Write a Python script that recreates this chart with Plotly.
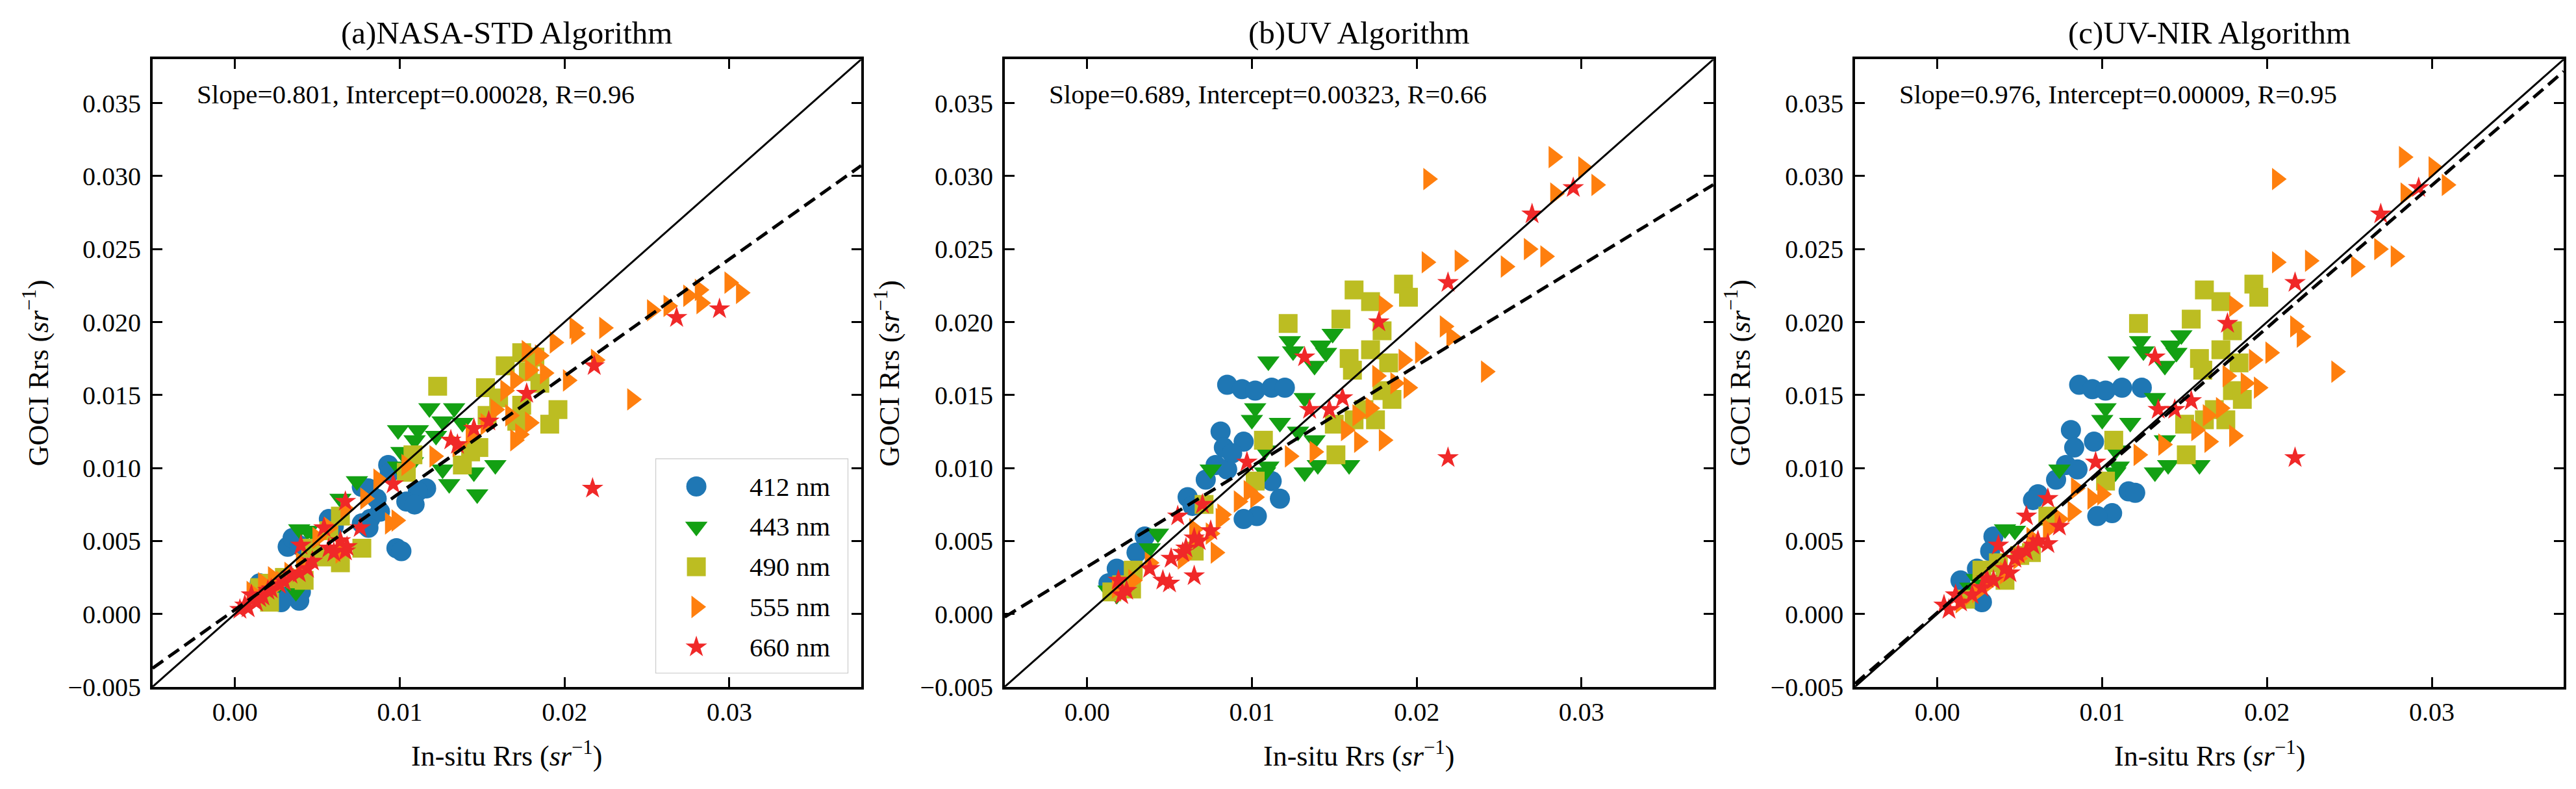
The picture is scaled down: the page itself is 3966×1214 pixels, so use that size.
import plotly.graph_objects as go

# ─── 데이터 ─────────────────────────────────────────────────────────────────
BANDS = ["412 nm", "443 nm", "490 nm", "555 nm", "660 nm"]
PANEL_TITLES = ["(a)NASA-STD Algorithm", "(b)UV Algorithm", "(c)UV-NIR Algorithm"]
SLOPES = [0.801, 0.689, 0.976]
INTERCEPTS = [0.00028, 0.00323, 0.00009]
R_VALUES = [0.96, 0.66, 0.95]

AXIS_RANGE = [-0.005, 0.038]
X_TICKS = [0.0, 0.01, 0.02, 0.03]
Y_TICKS = [-0.005, 0.0, 0.005, 0.010, 0.015, 0.020, 0.025, 0.030, 0.035]

# (a) NASA-STD
A412_X = [0.0093, 0.0094, 0.0116, 0.0111, 0.0104, 0.0109, 0.0098, 0.0101, 0.0082, 0.0081, 0.0077, 0.0057, 0.0032,
          0.0035, 0.0039, 0.0030, 0.0039, 0.0028, 0.0020, 0.0027, 0.0015, 0.0040, 0.0077, 0.0060, 0.0088, 0.0081,
          0.0086]
A412_Y = [0.0102, 0.0097, 0.0086, 0.0084, 0.0077, 0.0075, 0.0045, 0.0043, 0.0065, 0.0086, 0.0062, 0.0065, 0.0046,
          0.0052, 0.0047, 0.0013, 0.0009, 0.0008, 0.0009, 0.0018, 0.0021, 0.0015, 0.0087, 0.0060, 0.0070, 0.0059,
          0.0079]
A443_X = [0.0118, 0.0133, 0.0138, 0.0099, 0.0111, 0.0109, 0.0130, 0.0145, 0.0158, 0.0147, 0.0126, 0.0101, 0.0099,
          0.0074, 0.0064, 0.0044, 0.0039, 0.0049, 0.0027, 0.0037, 0.0020, 0.0122, 0.0108, 0.0126]
A443_Y = [0.0141, 0.0141, 0.0131, 0.0126, 0.0126, 0.0119, 0.0089, 0.0097, 0.0102, 0.0082, 0.0099, 0.0111, 0.0101,
          0.0091, 0.0079, 0.0057, 0.0058, 0.0053, 0.0021, 0.0015, 0.0016, 0.0122, 0.0104, 0.0132]
A490_X = [0.0123, 0.0164, 0.0174, 0.0182, 0.0178, 0.0152, 0.0153, 0.0148, 0.0143, 0.0138, 0.0196, 0.0191, 0.0174,
          0.0104, 0.0108, 0.0077, 0.0064, 0.0054, 0.0046, 0.0057, 0.0030, 0.0020, 0.0015, 0.0037, 0.0064, 0.0160,
          0.0185, 0.0171, 0.0042, 0.0021]
A490_Y = [0.0156, 0.0170, 0.0179, 0.0176, 0.0166, 0.0155, 0.0136, 0.0114, 0.0111, 0.0102, 0.0140, 0.0130, 0.0143,
          0.0097, 0.0109, 0.0045, 0.0035, 0.0039, 0.0045, 0.0057, 0.0025, 0.0021, 0.0018, 0.0024, 0.0067, 0.0148,
          0.0158, 0.0132, 0.0023, 0.0008]
A555_X = [0.0300, 0.0307, 0.0282, 0.0275, 0.0283, 0.0253, 0.0263, 0.0224, 0.0206, 0.0207, 0.0241, 0.0219, 0.0202,
          0.0194, 0.0185, 0.0177, 0.0179, 0.0170, 0.0164, 0.0158, 0.0170, 0.0179, 0.0167, 0.0152, 0.0143, 0.0121,
          0.0104, 0.0098, 0.0094, 0.0087, 0.0079, 0.0067, 0.0057, 0.0050, 0.0064, 0.0040, 0.0023, 0.0017, 0.0010,
          0.0188, 0.0135, 0.0173, 0.0028, 0.0033]
A555_Y = [0.0227, 0.0220, 0.0222, 0.0218, 0.0213, 0.0208, 0.0211, 0.0196, 0.0196, 0.0192, 0.0147, 0.0174, 0.0160,
          0.0186, 0.0177, 0.0180, 0.0167, 0.0160, 0.0153, 0.0140, 0.0119, 0.0131, 0.0136, 0.0130, 0.0123, 0.0108,
          0.0102, 0.0064, 0.0062, 0.0092, 0.0079, 0.0072, 0.0059, 0.0052, 0.0042, 0.0035, 0.0025, 0.0021, 0.0015,
          0.0165, 0.0115, 0.0123, 0.0022, 0.0028]
A660_X = [0.0294, 0.0268, 0.0218, 0.0217, 0.0177, 0.0154, 0.0145, 0.0131, 0.0135, 0.0096, 0.0067, 0.0054, 0.0064,
          0.0057, 0.0067, 0.0040, 0.0044, 0.0039, 0.0027, 0.0020, 0.0010, 0.0006, 0.0003, 0.0013, 0.0015, 0.0076,
          0.0060, 0.0068, 0.0022, 0.0030, 0.0034, 0.0017, 0.0008, 0.0047]
A660_Y = [0.0209, 0.0203, 0.0170, 0.0086, 0.0151, 0.0132, 0.0127, 0.0119, 0.0116, 0.0089, 0.0077, 0.0059, 0.0050,
          0.0045, 0.0043, 0.0047, 0.0031, 0.0028, 0.0020, 0.0016, 0.0013, 0.0006, 0.0003, 0.0008, 0.0011, 0.0059,
          0.0042, 0.0046, 0.0017, 0.0022, 0.0027, 0.0012, 0.0004, 0.0036]

# (b) UV
B412_X = [0.0085, 0.0094, 0.0102, 0.0112, 0.0120, 0.0081, 0.0083, 0.0095, 0.0078, 0.0085, 0.0117, 0.0112, 0.0103,
          0.0095, 0.0061, 0.0064, 0.0035, 0.0030, 0.0018, 0.0013, 0.0072, 0.0088]
B412_Y = [0.0157, 0.0154, 0.0153, 0.0155, 0.0155, 0.0125, 0.0114, 0.0118, 0.0102, 0.0099, 0.0079, 0.0091, 0.0067,
          0.0065, 0.0080, 0.0074, 0.0053, 0.0042, 0.0031, 0.0021, 0.0092, 0.0110]
B443_X = [0.0110, 0.0123, 0.0125, 0.0149, 0.0142, 0.0145, 0.0138, 0.0132, 0.0102, 0.0100, 0.0117, 0.0138, 0.0132,
          0.0140, 0.0159, 0.0075, 0.0110, 0.0043, 0.0038, 0.0018, 0.0108, 0.0128, 0.0108, 0.0013]
B443_Y = [0.0173, 0.0187, 0.0180, 0.0192, 0.0184, 0.0179, 0.0170, 0.0148, 0.0141, 0.0133, 0.0131, 0.0119, 0.0097,
          0.0102, 0.0102, 0.0099, 0.0101, 0.0055, 0.0045, 0.0013, 0.0112, 0.0125, 0.0097, 0.0016]
B490_X = [0.0122, 0.0154, 0.0162, 0.0172, 0.0192, 0.0195, 0.0159, 0.0161, 0.0172, 0.0179, 0.0183, 0.0179, 0.0185,
          0.0150, 0.0162, 0.0175, 0.0151, 0.0107, 0.0102, 0.0071, 0.0065, 0.0028, 0.0021, 0.0027, 0.0168, 0.0015]
B490_Y = [0.0199, 0.0202, 0.0222, 0.0214, 0.0226, 0.0217, 0.0175, 0.0167, 0.0181, 0.0194, 0.0172, 0.0153, 0.0147,
          0.0130, 0.0133, 0.0133, 0.0109, 0.0119, 0.0091, 0.0075, 0.0043, 0.0030, 0.0020, 0.0017, 0.0140, 0.0015]
B555_X = [0.0283, 0.0301, 0.0207, 0.0309, 0.0284, 0.0268, 0.0278, 0.0254, 0.0206, 0.0226, 0.0217, 0.0221, 0.0242,
          0.0180, 0.0202, 0.0192, 0.0187, 0.0195, 0.0176, 0.0172, 0.0164, 0.0157, 0.0165, 0.0180, 0.0138, 0.0123,
          0.0098, 0.0092, 0.0102, 0.0081, 0.0075, 0.0078, 0.0065, 0.0058, 0.0038, 0.0028, 0.0018, 0.0082, 0.0065]
B555_Y = [0.0313, 0.0306, 0.0298, 0.0294, 0.0288, 0.0250, 0.0245, 0.0238, 0.0241, 0.0242, 0.0197, 0.0190, 0.0166,
          0.0211, 0.0179, 0.0174, 0.0158, 0.0155, 0.0163, 0.0141, 0.0136, 0.0126, 0.0118, 0.0119, 0.0111, 0.0108,
          0.0084, 0.0077, 0.0080, 0.0065, 0.0055, 0.0042, 0.0058, 0.0038, 0.0035, 0.0023, 0.0018, 0.0068, 0.0053]
B660_X = [0.0295, 0.0270, 0.0219, 0.0177, 0.0132, 0.0219, 0.0155, 0.0147, 0.0135, 0.0097, 0.0055, 0.0070, 0.0075,
          0.0065, 0.0058, 0.0051, 0.0046, 0.0050, 0.0065, 0.0021, 0.0024, 0.0019, 0.0038, 0.0060, 0.0068]
B660_Y = [0.0292, 0.0274, 0.0227, 0.0200, 0.0176, 0.0107, 0.0148, 0.0140, 0.0140, 0.0104, 0.0067, 0.0075, 0.0057,
          0.0052, 0.0042, 0.0038, 0.0023, 0.0021, 0.0026, 0.0013, 0.0016, 0.0023, 0.0031, 0.0045, 0.0050]

# (c) UV-NIR
C412_X = [0.0086, 0.0094, 0.0102, 0.0112, 0.0124, 0.0081, 0.0083, 0.0095, 0.0078, 0.0085, 0.0116, 0.0120, 0.0106,
          0.0097, 0.0061, 0.0058, 0.0034, 0.0032, 0.0024, 0.0014, 0.0027, 0.0072]
C412_Y = [0.0157, 0.0154, 0.0153, 0.0155, 0.0155, 0.0126, 0.0114, 0.0118, 0.0102, 0.0099, 0.0084, 0.0083, 0.0069,
          0.0067, 0.0082, 0.0078, 0.0053, 0.0043, 0.0031, 0.0023, 0.0008, 0.0092]
C443_X = [0.0110, 0.0123, 0.0125, 0.0148, 0.0142, 0.0145, 0.0138, 0.0132, 0.0102, 0.0100, 0.0117, 0.0138, 0.0132,
          0.0140, 0.0159, 0.0074, 0.0110, 0.0041, 0.0047, 0.0024, 0.0020, 0.0108, 0.0108]
C443_Y = [0.0173, 0.0187, 0.0180, 0.0191, 0.0184, 0.0179, 0.0170, 0.0148, 0.0141, 0.0133, 0.0131, 0.0119, 0.0097,
          0.0102, 0.0102, 0.0099, 0.0101, 0.0058, 0.0057, 0.0024, 0.0018, 0.0112, 0.0097]
C490_X = [0.0122, 0.0154, 0.0162, 0.0172, 0.0192, 0.0195, 0.0159, 0.0161, 0.0172, 0.0179, 0.0183, 0.0179, 0.0185,
          0.0150, 0.0162, 0.0175, 0.0151, 0.0107, 0.0102, 0.0067, 0.0057, 0.0037, 0.0027, 0.0041, 0.0168, 0.0050,
          0.0017]
C490_Y = [0.0199, 0.0202, 0.0222, 0.0214, 0.0226, 0.0217, 0.0175, 0.0167, 0.0181, 0.0194, 0.0172, 0.0153, 0.0147,
          0.0130, 0.0133, 0.0133, 0.0109, 0.0119, 0.0091, 0.0067, 0.0042, 0.0035, 0.0030, 0.0023, 0.0140, 0.0040,
          0.0010]
C555_X = [0.0283, 0.0301, 0.0206, 0.0309, 0.0284, 0.0268, 0.0278, 0.0254, 0.0206, 0.0226, 0.0217, 0.0221, 0.0242,
          0.0180, 0.0202, 0.0192, 0.0187, 0.0195, 0.0176, 0.0172, 0.0164, 0.0157, 0.0165, 0.0180, 0.0137, 0.0122,
          0.0084, 0.0094, 0.0100, 0.0074, 0.0067, 0.0057, 0.0049, 0.0041, 0.0024, 0.0014, 0.0082, 0.0031]
C555_Y = [0.0313, 0.0306, 0.0298, 0.0294, 0.0288, 0.0250, 0.0245, 0.0238, 0.0241, 0.0242, 0.0197, 0.0190, 0.0166,
          0.0211, 0.0179, 0.0174, 0.0158, 0.0155, 0.0163, 0.0141, 0.0136, 0.0126, 0.0118, 0.0122, 0.0116, 0.0109,
          0.0086, 0.0079, 0.0082, 0.0065, 0.0058, 0.0052, 0.0038, 0.0028, 0.0015, 0.0008, 0.0070, 0.0021]
C660_X = [0.0292, 0.0269, 0.0217, 0.0176, 0.0132, 0.0217, 0.0154, 0.0144, 0.0134, 0.0096, 0.0054, 0.0067, 0.0074,
          0.0067, 0.0044, 0.0037, 0.0007, 0.0014, 0.0021, 0.0027, 0.0034, 0.0041, 0.0047, 0.0054, 0.0061, 0.0004,
          0.0011, 0.0030, 0.0049, 0.0058]
C660_Y = [0.0292, 0.0274, 0.0227, 0.0199, 0.0176, 0.0107, 0.0146, 0.0140, 0.0140, 0.0104, 0.0067, 0.0079, 0.0060,
          0.0048, 0.0028, 0.0047, 0.0003, 0.0008, 0.0013, 0.0018, 0.0023, 0.0031, 0.0038, 0.0043, 0.0050, 0.0006,
          0.0013, 0.0024, 0.0041, 0.0047]

PANELS = [
    [(A412_X, A412_Y), (A443_X, A443_Y), (A490_X, A490_Y), (A555_X, A555_Y), (A660_X, A660_Y)],
    [(B412_X, B412_Y), (B443_X, B443_Y), (B490_X, B490_Y), (B555_X, B555_Y), (B660_X, B660_Y)],
    [(C412_X, C412_Y), (C443_X, C443_Y), (C490_X, C490_Y), (C555_X, C555_Y), (C660_X, C660_Y)],
]

# ─── 스타일 ─────────────────────────────────────────────────────────────────
COLORS = ["#1f77b4", "#13a013", "#bcbd22", "#ff7f0e", "#f02828"]
SYMBOLS = ["circle", "triangle-down", "square", "triangle-right", "star"]
SIZES = [31, 30, 29, 30, 25]
FONT = "Liberation Serif, Times New Roman, serif"

X_DOMAINS = [[0.0572, 0.3323], [0.3880, 0.6631], [0.7181, 0.9932]]
Y_DOMAIN = [0.1194, 0.930]
YTITLE_X = [0.0119, 0.3424, 0.6725]

# 범례 박스 (panel a 안, paper 좌표)
LEG_X = [0.2527, 0.3270]
LEG_Y = [0.1376, 0.4135]


def axis_style(**kw):
    d = dict(
        range=AXIS_RANGE, showgrid=False, zeroline=False,
        showline=True, linecolor="black", linewidth=3.5, mirror="ticks",
        ticks="inside", ticklen=15, tickwidth=3, tickcolor="black",
        tickfont=dict(family=FONT, size=40, color="black"),
    )
    d.update(kw)
    return d


def make_figure():
    fig = go.Figure()
    annotations = []

    for p, series in enumerate(PANELS):
        xa = "x" if p == 0 else f"x{p + 1}"
        ya = "y" if p == 0 else f"y{p + 1}"

        for b, (xs, ys) in enumerate(series):
            fig.add_trace(go.Scatter(
                x=xs, y=ys, mode="markers", name=BANDS[b],
                marker=dict(symbol=SYMBOLS[b], size=SIZES[b], color=COLORS[b], line=dict(width=0)),
                showlegend=False, xaxis=xa, yaxis=ya,
            ))

        # 1:1 선
        fig.add_trace(go.Scatter(
            x=AXIS_RANGE, y=AXIS_RANGE, mode="lines",
            line=dict(color="black", width=3), showlegend=False, xaxis=xa, yaxis=ya,
        ))
        # 회귀선
        fig.add_trace(go.Scatter(
            x=AXIS_RANGE, y=[SLOPES[p] * v + INTERCEPTS[p] for v in AXIS_RANGE], mode="lines",
            line=dict(color="black", width=5, dash="20px,10px"), showlegend=False, xaxis=xa, yaxis=ya,
        ))

        fig.layout[f"xaxis{'' if p == 0 else p + 1}"] = axis_style(
            domain=X_DOMAINS[p], anchor=ya, tickvals=X_TICKS, tickformat=".2f")
        fig.layout[f"yaxis{'' if p == 0 else p + 1}"] = axis_style(
            domain=Y_DOMAIN, anchor=xa, tickvals=Y_TICKS, tickformat=".3f", ticklabelstandoff=6)

        cx = sum(X_DOMAINS[p]) / 2
        annotations += [
            dict(text=PANEL_TITLES[p], x=cx, y=0.9646, xref="paper", yref="paper",
                 xanchor="center", yanchor="middle",
                 showarrow=False, font=dict(family=FONT, size=49, color="black")),
            dict(text=f"Slope={SLOPES[p]:.3f}, Intercept={INTERCEPTS[p]:.5f}, R={R_VALUES[p]:.2f}",
                 x=-0.0024, y=0.0356, xref=xa, yref=ya, xanchor="left", yanchor="middle",
                 showarrow=False, font=dict(family=FONT, size=41, color="black")),
            dict(text="In-situ Rrs (<i>sr</i><sup>−1</sup>)", x=cx, y=0.032, xref="paper", yref="paper",
                 xanchor="center", yanchor="middle",
                 showarrow=False, font=dict(family=FONT, size=44, color="black")),
            dict(text="GOCI Rrs (<i>sr</i><sup>−1</sup>)", x=YTITLE_X[p], y=sum(Y_DOMAIN) / 2,
                 xref="paper", yref="paper", textangle=-90, xanchor="center", yanchor="middle",
                 showarrow=False, font=dict(family=FONT, size=44, color="black")),
        ]

    # ── 범례: 보조 축 위에 직접 그림 (plotly 범례는 마커 크기가 16px로 제한됨) ──
    idx = list(range(len(BANDS)))
    for b in idx:
        fig.add_trace(go.Scatter(
            x=[0.21], y=[b], mode="markers",
            marker=dict(symbol=SYMBOLS[b], size=SIZES[b], color=COLORS[b], line=dict(width=0)),
            showlegend=False, hoverinfo="skip", xaxis="x4", yaxis="y4",
        ))
        annotations.append(dict(
            text=BANDS[b], x=0.48, y=b, xref="x4", yref="y4", xanchor="left", yanchor="middle",
            showarrow=False, font=dict(family=FONT, size=41, color="black"),
        ))
    hidden = dict(visible=False, showgrid=False, zeroline=False, fixedrange=True)
    fig.layout["xaxis4"] = dict(domain=LEG_X, range=[0, 1], anchor="y4", **hidden)
    fig.layout["yaxis4"] = dict(domain=LEG_Y, range=[4.64, -0.68], anchor="x4", **hidden)

    fig.update_layout(
        width=3966, height=1214,
        margin=dict(l=0, r=0, t=0, b=0),
        plot_bgcolor="white", paper_bgcolor="white",
        annotations=annotations,
        shapes=[dict(
            type="rect", xref="paper", yref="paper",
            x0=LEG_X[0], x1=LEG_X[1], y0=LEG_Y[0], y1=LEG_Y[1],
            line=dict(color="#cccccc", width=2.5), fillcolor="white", layer="below",
        )],
        showlegend=False,
    )
    return fig


def main():
    fig = make_figure()
    fig.write_html("out.html")


if __name__ == "__main__":
    main()
